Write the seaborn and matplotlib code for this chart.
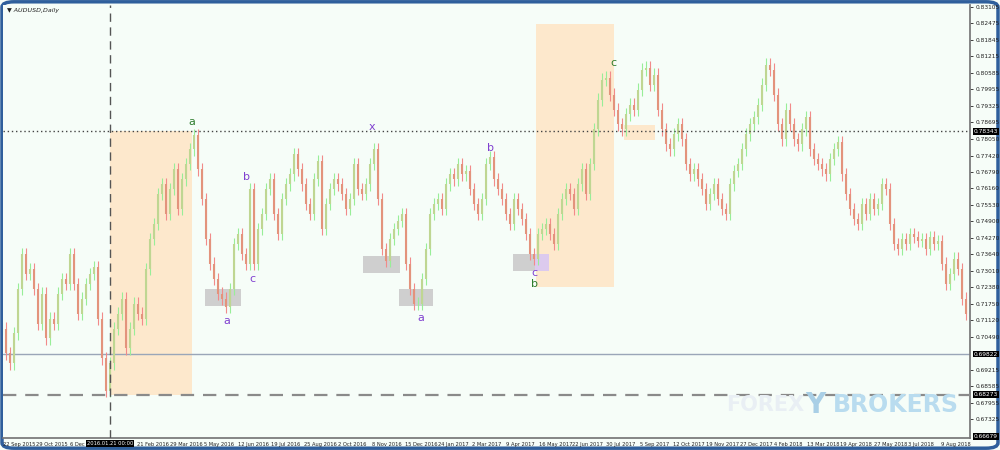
import numpy as np
import pandas as pd
import matplotlib.pyplot as plt
import seaborn as sns
from matplotlib.patches import Rectangle, FancyBboxPatch
from matplotlib.transforms import blended_transform_factory

# AUDUSD daily - closes, one value every ~3 sessions
closes = [
    0.7080, 0.6985, 0.6947, 0.7061, 0.7232, 0.7366, 0.7289, 0.7308, 0.7232, 0.7099,
    0.7213, 0.7042, 0.7118, 0.7099, 0.7213, 0.7270, 0.7251, 0.7366, 0.7251, 0.7137,
    0.7194, 0.7251, 0.7289, 0.7316, 0.7118, 0.6966, 0.6840, 0.6947, 0.7080, 0.7137,
    0.7194, 0.7004, 0.7080, 0.7175, 0.7137, 0.7118, 0.7308, 0.7423, 0.7480, 0.7594,
    0.7632, 0.7518, 0.7613, 0.7689, 0.7537, 0.7651, 0.7709, 0.7766, 0.7819, 0.7689,
    0.7575, 0.7423, 0.7328, 0.7270, 0.7213, 0.7194, 0.7164, 0.7232, 0.7404, 0.7442,
    0.7366, 0.7328, 0.7613, 0.7328, 0.7461, 0.7518, 0.7613, 0.7651, 0.7518, 0.7442,
    0.7575, 0.7632, 0.7670, 0.7747, 0.7689, 0.7632, 0.7556, 0.7518, 0.7651, 0.7720,
    0.7461, 0.7556, 0.7613, 0.7651, 0.7632, 0.7594, 0.7537, 0.7575, 0.7709, 0.7613,
    0.7594, 0.7632, 0.7709, 0.7766, 0.7575, 0.7385, 0.7339, 0.7423, 0.7461, 0.7491,
    0.7518, 0.7328, 0.7232, 0.7175, 0.7175, 0.7270, 0.7385, 0.7518, 0.7556, 0.7575,
    0.7537, 0.7632, 0.7670, 0.7651, 0.7709, 0.7670, 0.7682, 0.7613, 0.7556, 0.7518,
    0.7575, 0.7709, 0.7735, 0.7651, 0.7613, 0.7575, 0.7518, 0.7480, 0.7575, 0.7537,
    0.7499, 0.7442, 0.7366, 0.7347, 0.7442, 0.7461, 0.7480, 0.7442, 0.7404, 0.7518,
    0.7575, 0.7613, 0.7594, 0.7537, 0.7632, 0.7689, 0.7594, 0.7709, 0.7842, 0.7956,
    0.8032, 0.8040, 0.7975, 0.7918, 0.7861, 0.7842, 0.7899, 0.7937, 0.7918, 0.7994,
    0.8071, 0.8078, 0.8013, 0.8052, 0.7918, 0.7842, 0.7785, 0.7766, 0.7823, 0.7861,
    0.7804, 0.7709, 0.7670, 0.7689, 0.7651, 0.7613, 0.7556, 0.7594, 0.7632, 0.7575,
    0.7537, 0.7518, 0.7632, 0.7682, 0.7709, 0.7766, 0.7823, 0.7861, 0.7888, 0.7937,
    0.8013, 0.8090, 0.8071, 0.7975, 0.7861, 0.7804, 0.7918, 0.7861, 0.7804, 0.7785,
    0.7842, 0.7888, 0.7766, 0.7728, 0.7709, 0.7689, 0.7670, 0.7728, 0.7766, 0.7793,
    0.7670, 0.7594, 0.7537, 0.7499, 0.7480, 0.7556, 0.7518, 0.7575, 0.7537, 0.7556,
    0.7632, 0.7613, 0.7480, 0.7404, 0.7385, 0.7423, 0.7404, 0.7442, 0.7430, 0.7415,
    0.7423, 0.7385, 0.7430, 0.7404, 0.7415, 0.7328, 0.7251, 0.7289, 0.7347, 0.7308,
    0.7194, 0.7137,
]

# the label under the crosshair box is hidden in the original, so it is left blank
date_labels = ["22 Sep 2015", "29 Oct 2015", "6 Dec 2015", "", "21 Feb 2016",
               "29 Mar 2016", "5 May 2016", "12 Jun 2016", "19 Jul 2016", "25 Aug 2016",
               "2 Oct 2016", "8 Nov 2016", "15 Dec 2016", "24 Jan 2017", "2 Mar 2017",
               "9 Apr 2017", "16 May 2017", "22 Jun 2017", "30 Jul 2017", "5 Sep 2017",
               "12 Oct 2017", "19 Nov 2017", "27 Dec 2017", "4 Feb 2018", "13 Mar 2018",
               "19 Apr 2018", "27 May 2018", "3 Jul 2018", "9 Aug 2018"]

price_ticks = [0.83105, 0.82475, 0.81845, 0.81215, 0.80585, 0.79955, 0.79325, 0.78695,
               0.78050, 0.77420, 0.76790, 0.76160, 0.75530, 0.74900, 0.74270, 0.73640,
               0.73010, 0.72380, 0.71750, 0.71120, 0.70490, 0.69215, 0.68585, 0.67955,
               0.67325]

level_dotted = 0.78343
level_solid = 0.69822
level_dashed = 0.68273
level_bottom = 0.66679
crosshair_bar = 27
crosshair_label = "2016.01.21 00:00"

# zones: (bar start, bar end, price low, price high)
orange_zones = [(27, 47.5, 0.68273, 0.78343), (133.5, 153, 0.7240, 0.8246), (155.5, 163.25, 0.7800, 0.7857)]
gray_zones = [(50.75, 59.75, 0.7168, 0.7232), (90.25, 99.5, 0.7293, 0.7358),
              (99.25, 107.75, 0.7168, 0.7232), (127.75, 133.25, 0.7301, 0.7366)]
lilac_zones = [(133.25, 136.75, 0.7301, 0.7366)]

# wave letters: (bar, price, text, colour)
wave_labels = [(47.5, 0.7872, "a", "#2e7d2e"), (92.5, 0.7850, "x", "#8040d0"),
               (61.25, 0.7659, "b", "#8040d0"), (62.5, 0.7270, "c", "#8040d0"),
               (56.25, 0.7107, "a", "#8040d0"), (104.75, 0.7122, "a", "#8040d0"),
               (122, 0.7770, "b", "#8040d0"), (133, 0.7293, "c", "#8040d0"),
               (133.25, 0.7251, "b", "#2e7d2e"), (152.75, 0.8097, "c", "#2e7d2e")]

sns.set_theme(style="white")
plt.rcParams['font.family'] = ['DejaVu Sans']

df = pd.DataFrame({'close': closes})
df['bar'] = np.arange(len(df))
df['open'] = df['close'].shift(1).fillna(df['close'].iloc[0])
df['top'] = df[['open', 'close']].max(axis=1)
df['bot'] = df[['open', 'close']].min(axis=1)
up = df['close'] >= df['open']
wick = 0.0024

bg = '#f6fdf8'
fig = plt.figure(figsize=(10, 4.5), dpi=100, facecolor=bg)
fig.patches.append(FancyBboxPatch((0.002, 0.004), 0.996, 0.992, boxstyle='round,pad=0,rounding_size=0.012',
                                  transform=fig.transFigure, fc='none', ec='#2f5f9c', lw=2.5, zorder=-1))
ax = fig.add_axes([0.003, 12 / 450, 0.967, 433 / 450])
ax.set_facecolor(bg)

for x0, x1, lo, hi in orange_zones:
    ax.add_patch(Rectangle((x0, lo), x1 - x0, hi - lo, color='#fde8cc', lw=0, zorder=0))
for x0, x1, lo, hi in gray_zones:
    ax.add_patch(Rectangle((x0, lo), x1 - x0, hi - lo, color='#cfcfcf', lw=0, zorder=0))
for x0, x1, lo, hi in lilac_zones:
    ax.add_patch(Rectangle((x0, lo), x1 - x0, hi - lo, color='#dccaee', lw=0, zorder=0))

# bars
ax.vlines(df['bar'][up], df['bot'][up] - wick, df['top'][up] + wick, colors='#98ee98', lw=0.8, zorder=2)
ax.vlines(df['bar'][~up], df['bot'][~up] - wick, df['top'][~up] + wick, colors='#f28a8a', lw=0.8, zorder=2)
ax.vlines(df['bar'][up], df['bot'][up], df['top'][up], colors='#bfd692', lw=1.5, zorder=3)
ax.vlines(df['bar'][~up], df['bot'][~up], df['top'][~up], colors='#e3937c', lw=1.5, zorder=3)

ax.axhline(level_dotted, color='#444444', lw=1.0, ls=(0, (1, 2)), zorder=4)
ax.axhline(level_solid, color='#9aa6b8', lw=1.0, zorder=1)
ax.axhline(level_dashed, color='#8a8a8a', lw=1.6, ls=(0, (6, 4)), zorder=4)
ax.axvline(crosshair_bar, color='#555555', lw=1.0, ls=(0, (6, 4)), zorder=4)

for bx, py, t, c in wave_labels:
    ax.text(bx, py, t, color=c, fontsize=8, ha='center', va='center', zorder=5)

ax.set_xlim(0.25, 242)
ax.set_ylim(0.6661, 0.8318)

ax.yaxis.tick_right()
ax.set_yticks(price_ticks)
ax.set_yticklabels([f"{p:.5f}" for p in price_ticks], fontsize=4.2, color='#222222')
ax.tick_params(axis='y', length=2.5, width=0.6, pad=1.5, colors='#222222')
tick_pos = 0.25 + 8.375 * np.arange(len(date_labels))
ax.set_xticks(tick_pos)
ax.set_xticklabels(date_labels, fontsize=3.7, color='#222222', ha='left')
ax.tick_params(axis='x', length=2, width=0.6, pad=0.8, colors='#222222')
for s in ['top', 'left']:
    ax.spines[s].set_visible(False)
ax.spines['right'].set_color('#777777')
ax.spines['bottom'].set_color('#777777')
ax.spines['bottom'].set_linestyle((0, (1, 1)))

# price markers on the right scale
ty = blended_transform_factory(ax.transAxes, ax.transData)
for lvl in [level_dotted, level_solid, level_dashed, level_bottom]:
    ax.text(1.004, lvl, f"{lvl:.5f}", transform=ty, fontsize=4.2, color='white', ha='left',
            va='center', bbox=dict(boxstyle='square,pad=0.15', fc='black', ec='none'),
            zorder=6, clip_on=False)
tx = blended_transform_factory(ax.transData, ax.transAxes)
ax.text(crosshair_bar, -0.008, crosshair_label, transform=tx, fontsize=3.7, color='white',
        ha='center', va='top', bbox=dict(boxstyle='square,pad=0.2', fc='black', ec='none'),
        zorder=6, clip_on=False)

ax.text(0.004, 0.992, "\u25bc AUDUSD,Daily", transform=ax.transAxes, fontsize=4.5,
        color='#222222', ha='left', va='top', style='italic')

# watermark
fig.text(0.765, 0.10, "FOREX", fontsize=15, fontweight='bold', color='#e9eff4', ha='center', va='center')
fig.text(0.815, 0.10, "Y", fontsize=20, fontweight='bold', color='#a9cfe6', ha='center', va='center')
fig.text(0.896, 0.10, "BROKERS", fontsize=17, fontweight='bold', color='#b9dcef', ha='center', va='center')

fig.savefig('out.png', dpi=100, facecolor=bg)
